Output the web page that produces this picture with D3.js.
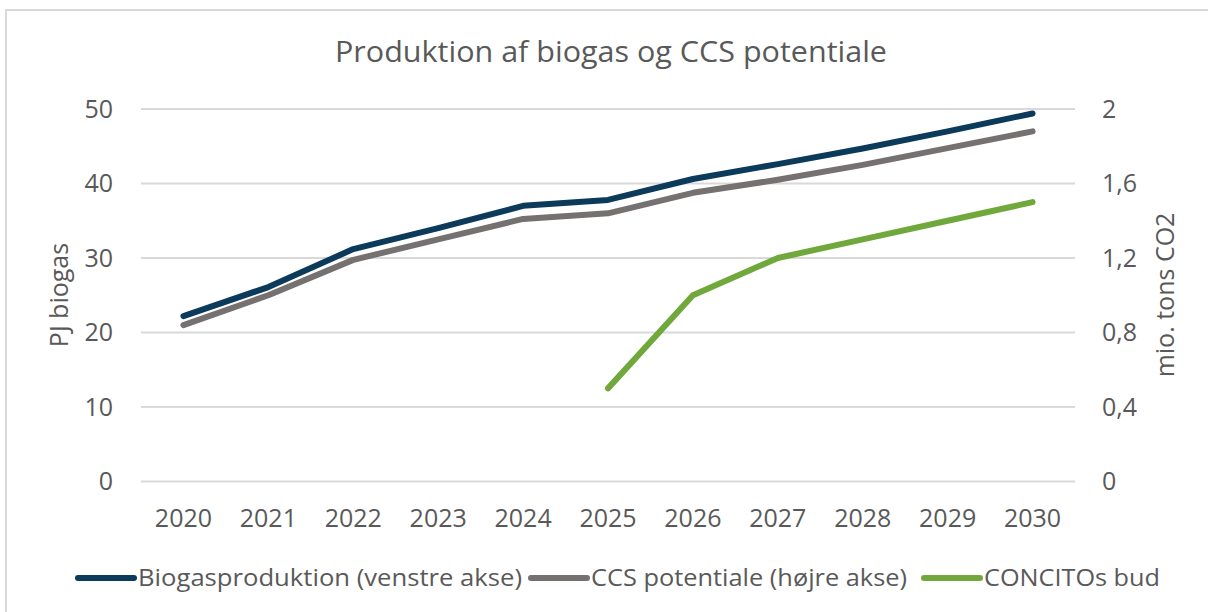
<!DOCTYPE html>
<html>
<head>
<meta charset="utf-8">
<script src="https://cdn.jsdelivr.net/npm/d3@7"></script>
<style>
  body { margin: 0; background: #fff; }
  svg text { font-family: "Open Sans", sans-serif; fill: #595959; }
</style>
</head>
<body>
<div id="chart"></div>
<script>
// data
const years = ['2020', '2021', '2022', '2023', '2024', '2025', '2026', '2027', '2028', '2029', '2030']
const biogas = [22.2, 26.1, 31.2, 34.0, 37.0, 37.8, 40.6, 42.6, 44.7, 47.0, 49.4] // PJ, left axis
const ccs = [0.84, 1.0, 1.19, 1.3, 1.41, 1.44, 1.55, 1.62, 1.7, 1.79, 1.88] // mio. tons, right axis
const concito = [null, null, null, null, null, 0.5, 1.0, 1.2, 1.3, 1.4, 1.5] // mio. tons, right axis
const leftTicks = [0, 10, 20, 30, 40, 50]
const rightTicks = [0, 0.4, 0.8, 1.2, 1.6, 2]

const W = 1208, H = 612
const plot = { left: 141, right: 1075, top: 109, bottom: 481.5 }

const svg = d3.select('#chart').append('svg').attr('width', W).attr('height', H)

// chart frame (runs off the right/bottom edge like the screenshot)
svg.append('rect')
  .attr('x', 6).attr('y', 10).attr('width', W + 10).attr('height', H + 10)
  .attr('fill', '#fff').attr('stroke', '#d9d9d9').attr('stroke-width', 2)

const x = d3.scaleBand().domain(years).range([plot.left, plot.right])
const yL = d3.scaleLinear().domain([0, 50]).range([plot.bottom, plot.top])
const yR = d3.scaleLinear().domain([0, 2]).range([plot.bottom, plot.top])
const cx = d => x(d) + x.bandwidth() / 2

// gridlines
svg.append('g')
  .selectAll('line')
  .data(leftTicks)
  .enter()
  .append('line')
  .attr('x1', plot.left).attr('x2', plot.right)
  .attr('y1', d => yL(d)).attr('y2', d => yL(d))
  .attr('stroke', '#d9d9d9').attr('stroke-width', 2)

// left axis labels
const fmtR = d => String(d).replace('.', ',')
const leftAxis = svg.append('g')
  .attr('transform', `translate(${plot.left - 28},0)`)
  .call(d3.axisLeft(yL).tickValues(leftTicks).tickSize(0).tickPadding(0))
leftAxis.select('.domain').remove()
leftAxis.selectAll('text').attr('font-size', 25).attr('fill', '#595959').attr('font-family', '"Open Sans", sans-serif')

const rightAxis = svg.append('g')
  .attr('transform', `translate(${plot.right + 27},0)`)
  .call(d3.axisRight(yR).tickValues(rightTicks).tickFormat(fmtR).tickSize(0).tickPadding(0))
rightAxis.select('.domain').remove()
rightAxis.selectAll('text').attr('font-size', 25).attr('fill', '#595959').attr('font-family', '"Open Sans", sans-serif')

const bottomAxis = svg.append('g')
  .attr('transform', `translate(0,${plot.bottom + 28})`)
  .call(d3.axisBottom(x).tickSize(0).tickPadding(0))
bottomAxis.select('.domain').remove()
bottomAxis.selectAll('text').attr('font-size', 25).attr('fill', '#595959').attr('font-family', '"Open Sans", sans-serif')
  .attr('dy', '0.71em')

// axis titles
svg.append('text')
  .attr('transform', `translate(68,295) rotate(-90)`)
  .attr('text-anchor', 'middle')
  .attr('font-size', 25)
  .text('PJ biogas')
svg.append('text')
  .attr('transform', `translate(1174,295) rotate(-90)`)
  .attr('text-anchor', 'middle')
  .attr('font-size', 25)
  .text('mio. tons CO2')

// title
svg.append('text')
  .attr('x', 611).attr('y', 62)
  .attr('text-anchor', 'middle')
  .attr('font-size', 29)
  .attr('textLength', 552).attr('lengthAdjust', 'spacingAndGlyphs')
  .text('Produktion af biogas og CCS potentiale')

// series
const series = [
  { name: 'Biogasproduktion (venstre akse)', values: biogas, y: yL, color: '#0c3a5b' },
  { name: 'CCS potentiale (højre akse)', values: ccs, y: yR, color: '#767171' },
  { name: 'CONCITOs bud', values: concito, y: yR, color: '#70a83b' }
]

series.forEach(s => {
  const line = d3.line()
    .defined(d => d[1] != null)
    .x(d => cx(d[0]))
    .y(d => s.y(d[1]))
  svg.append('path')
    .datum(years.map((yr, i) => [yr, s.values[i]]))
    .attr('d', line)
    .attr('fill', 'none')
    .attr('stroke', s.color)
    .attr('stroke-width', 6)
    .attr('stroke-linecap', 'round')
    .attr('stroke-linejoin', 'round')
})

// legend
const legendItems = [
  { x: 78, textLen: 384 },
  { x: 531, textLen: 316 },
  { x: 924, textLen: 176 }
]
const legendY = 578
legendItems.forEach((it, i) => {
  const g = svg.append('g').attr('transform', `translate(${it.x},${legendY})`)
  g.append('line')
    .attr('x1', 0).attr('x2', 56)
    .attr('stroke', series[i].color).attr('stroke-width', 6).attr('stroke-linecap', 'round')
  g.append('text')
    .attr('x', 60).attr('y', 0).attr('dy', '0.35em')
    .attr('font-size', 24)
    .attr('textLength', it.textLen).attr('lengthAdjust', 'spacingAndGlyphs')
    .text(series[i].name)
})
</script>
</body>
</html>
